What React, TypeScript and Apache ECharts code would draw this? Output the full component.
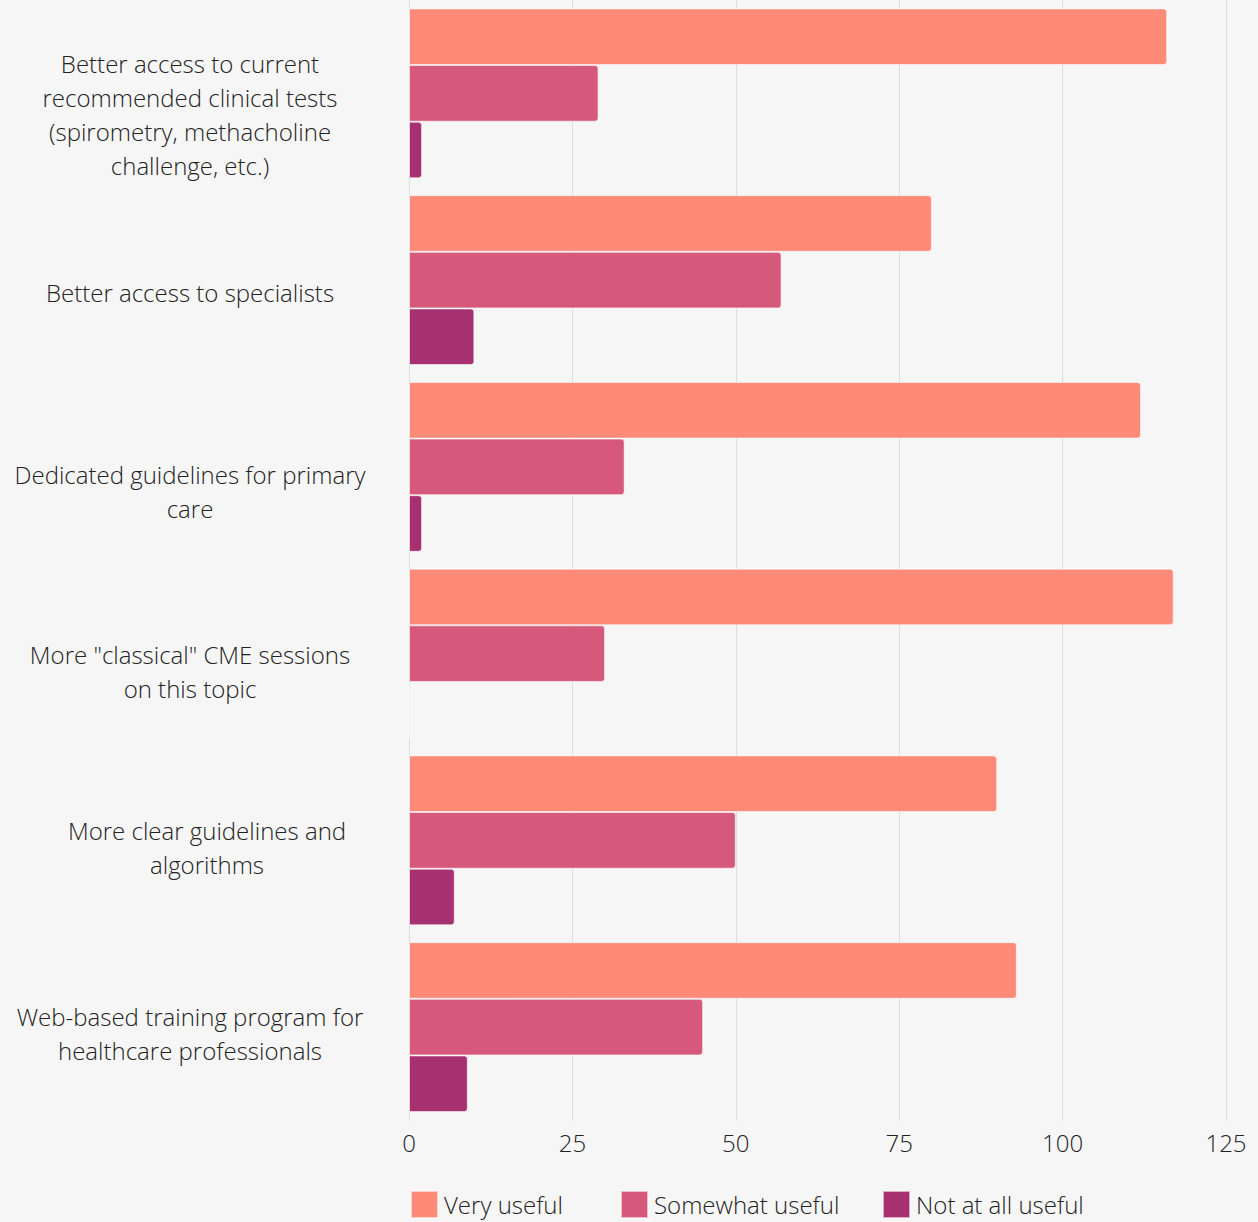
import React, { useEffect, useRef } from "react";
import * as echarts from "echarts";

const categories = [
  "Better access to current\nrecommended clinical tests\n(spirometry, methacholine\nchallenge, etc.)",
  "Better access to specialists",
  "Dedicated guidelines for primary\ncare",
  "More \"classical\" CME sessions\non this topic",
  "More clear guidelines and\nalgorithms",
  "Web-based training program for\nhealthcare professionals",
];
const seriesNames = ["Very useful", "Somewhat useful", "Not at all useful"];
const veryUseful = [116, 80, 112, 117, 90, 93];
const somewhatUseful = [29, 57, 33, 30, 50, 45];
const notAtAllUseful = [2, 10, 2, 0, 7, 9];
const colors = ["#FF8A78", "#D6587A", "#A63070"];
const xTicks = [0, 25, 50, 75, 100, 125];

// label / legend placement (style, not data)
const labelDy = [21, 12, 25, 18, 7, 6];
const labelDx = [0, 0, 0, 0, 17, 0];
const legendLefts = [410, 620, 882];

export default function App() {
  const ref = useRef<HTMLDivElement>(null);
  useEffect(() => {
    document.body.style.margin = "0";
    const chart = echarts.init(ref.current!, null, { renderer: "svg" });
    const font = "'Open Sans', sans-serif";
    const data = [veryUseful, somewhatUseful, notAtAllUseful];
    chart.setOption({
      animation: false,
      backgroundColor: "#F6F6F6",
      textStyle: { fontFamily: font },
      grid: { left: 409, right: 32, top: -0.5, bottom: 101.5, containLabel: false },
      legend: seriesNames.map((name, i) => ({
        left: legendLefts[i],
        top: 1190,
        padding: 0,
        itemWidth: 27,
        itemHeight: 27,
        icon: "rect",
        textStyle: { fontFamily: font, fontWeight: 300, fontSize: 24, color: "#222", padding: [2, 0, 0, 1] },
        data: [name],
      })),
      xAxis: {
        type: "value",
        min: xTicks[0],
        max: xTicks[xTicks.length - 1],
        interval: 25,
        axisLine: { show: false },
        axisTick: { show: false },
        splitLine: { show: true, lineStyle: { color: "#DDDDDD", width: 1 } },
        axisLabel: { fontFamily: font, fontWeight: 300, fontSize: 24, color: "#222", margin: 10 },
      },
      yAxis: {
        type: "category",
        inverse: true,
        data: categories,
        axisLine: { show: false },
        axisTick: { show: false },
        axisLabel: { show: false },
      },
      series: seriesNames.map((name, i) => ({
        name,
        type: "bar",
        data: data[i],
        barGap: "0%",
        barCategoryGap: "9%",
        itemStyle: {
          color: colors[i],
          borderColor: "rgba(255,255,255,0.6)",
          borderWidth: 1,
          borderRadius: [0, 3, 3, 0],
        },
      })),
    });
    const labels = categories.map((c, i) => {
      const y = chart.convertToPixel({ yAxisIndex: 0 }, i) as number;
      return {
        type: "text",
        x: 190 + labelDx[i],
        y: y + labelDy[i],
        style: {
          text: c,
          fontFamily: font,
          fontWeight: 300,
          fontSize: 24,
          lineHeight: 34,
          fill: "#222",
          textAlign: "center",
          textVerticalAlign: "middle",
        },
      };
    });
    chart.setOption({ graphic: labels });
    return () => chart.dispose();
  }, []);
  return <div ref={ref} style={{ position: "absolute", left: 0, top: 0, width: 1258, height: 1222 }} />;
}
